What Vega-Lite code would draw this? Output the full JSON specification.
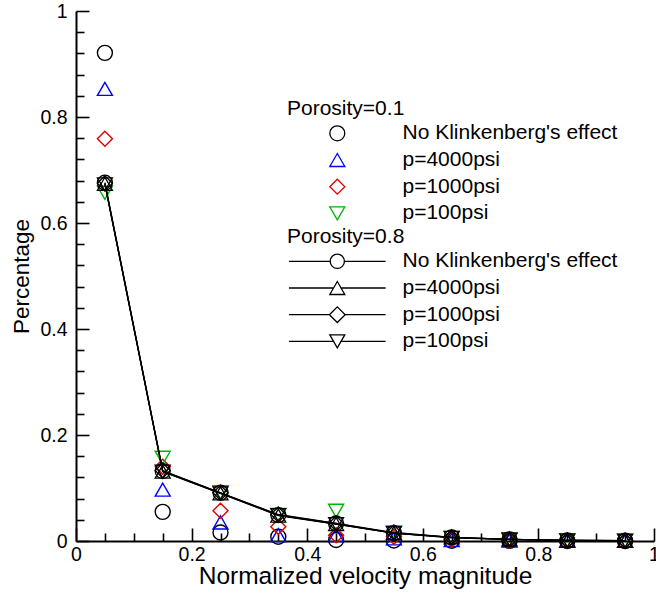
{
  "$schema": "https://vega.github.io/schema/vega-lite/v6.json",
  "width": 578,
  "height": 530,
  "autosize": "none",
  "padding": {"left": 76, "top": 11, "right": 2, "bottom": 53},
  "background": "white",
  "config": {
    "font": "Liberation Sans",
    "view": {"stroke": null},
    "axis": {"grid": true, "ticks": false, "gridColor": "black", "gridOpacity": 1, "gridWidth": 1.6, "domainColor": "black", "domainWidth": 2, "labelColor": "black", "titleColor": "black", "titleFontWeight": "normal", "labelOverlap": false, "labelFlush": false}
  },
  "datasets": {
    "p01": [
      {"x": 0.05, "y": 0.921, "case": "No Klinkenberg's effect"},
      {"x": 0.15, "y": 0.055, "case": "No Klinkenberg's effect"},
      {"x": 0.25, "y": 0.016, "case": "No Klinkenberg's effect"},
      {"x": 0.35, "y": 0.008, "case": "No Klinkenberg's effect"},
      {"x": 0.45, "y": 0.002, "case": "No Klinkenberg's effect"},
      {"x": 0.55, "y": 0.001, "case": "No Klinkenberg's effect"},
      {"x": 0.65, "y": 0.0005, "case": "No Klinkenberg's effect"},
      {"x": 0.75, "y": 0.0002, "case": "No Klinkenberg's effect"},
      {"x": 0.85, "y": 0.0001, "case": "No Klinkenberg's effect"},
      {"x": 0.95, "y": 0.0, "case": "No Klinkenberg's effect"},
      {"x": 0.05, "y": 0.853, "case": "p=4000psi"},
      {"x": 0.15, "y": 0.097, "case": "p=4000psi"},
      {"x": 0.25, "y": 0.035, "case": "p=4000psi"},
      {"x": 0.35, "y": 0.011, "case": "p=4000psi"},
      {"x": 0.45, "y": 0.011, "case": "p=4000psi"},
      {"x": 0.55, "y": 0.005, "case": "p=4000psi"},
      {"x": 0.65, "y": 0.002, "case": "p=4000psi"},
      {"x": 0.75, "y": 0.001, "case": "p=4000psi"},
      {"x": 0.85, "y": 0.0005, "case": "p=4000psi"},
      {"x": 0.95, "y": 0.0002, "case": "p=4000psi"},
      {"x": 0.05, "y": 0.759, "case": "p=1000psi"},
      {"x": 0.15, "y": 0.14, "case": "p=1000psi"},
      {"x": 0.25, "y": 0.057, "case": "p=1000psi"},
      {"x": 0.35, "y": 0.027, "case": "p=1000psi"},
      {"x": 0.45, "y": 0.011, "case": "p=1000psi"},
      {"x": 0.55, "y": 0.008, "case": "p=1000psi"},
      {"x": 0.65, "y": 0.003, "case": "p=1000psi"},
      {"x": 0.75, "y": 0.001, "case": "p=1000psi"},
      {"x": 0.85, "y": 0.0005, "case": "p=1000psi"},
      {"x": 0.95, "y": 0.0002, "case": "p=1000psi"},
      {"x": 0.05, "y": 0.657, "case": "p=100psi"},
      {"x": 0.15, "y": 0.157, "case": "p=100psi"},
      {"x": 0.25, "y": 0.092, "case": "p=100psi"},
      {"x": 0.35, "y": 0.049, "case": "p=100psi"},
      {"x": 0.45, "y": 0.057, "case": "p=100psi"},
      {"x": 0.55, "y": 0.016, "case": "p=100psi"},
      {"x": 0.65, "y": 0.006, "case": "p=100psi"},
      {"x": 0.75, "y": 0.002, "case": "p=100psi"},
      {"x": 0.85, "y": 0.001, "case": "p=100psi"},
      {"x": 0.95, "y": 0.0005, "case": "p=100psi"}
    ],
    "p08": [
      {"x": 0.05, "y": 0.676, "case": "No Klinkenberg's effect"},
      {"x": 0.15, "y": 0.132, "case": "No Klinkenberg's effect"},
      {"x": 0.25, "y": 0.091, "case": "No Klinkenberg's effect"},
      {"x": 0.35, "y": 0.049, "case": "No Klinkenberg's effect"},
      {"x": 0.45, "y": 0.033, "case": "No Klinkenberg's effect"},
      {"x": 0.55, "y": 0.015, "case": "No Klinkenberg's effect"},
      {"x": 0.65, "y": 0.007, "case": "No Klinkenberg's effect"},
      {"x": 0.75, "y": 0.003, "case": "No Klinkenberg's effect"},
      {"x": 0.85, "y": 0.001, "case": "No Klinkenberg's effect"},
      {"x": 0.95, "y": 0.0005, "case": "No Klinkenberg's effect"},
      {"x": 0.05, "y": 0.674, "case": "p=4000psi"},
      {"x": 0.15, "y": 0.131, "case": "p=4000psi"},
      {"x": 0.25, "y": 0.09, "case": "p=4000psi"},
      {"x": 0.35, "y": 0.048, "case": "p=4000psi"},
      {"x": 0.45, "y": 0.032, "case": "p=4000psi"},
      {"x": 0.55, "y": 0.015, "case": "p=4000psi"},
      {"x": 0.65, "y": 0.007, "case": "p=4000psi"},
      {"x": 0.75, "y": 0.003, "case": "p=4000psi"},
      {"x": 0.85, "y": 0.001, "case": "p=4000psi"},
      {"x": 0.95, "y": 0.0005, "case": "p=4000psi"},
      {"x": 0.05, "y": 0.675, "case": "p=1000psi"},
      {"x": 0.15, "y": 0.133, "case": "p=1000psi"},
      {"x": 0.25, "y": 0.091, "case": "p=1000psi"},
      {"x": 0.35, "y": 0.05, "case": "p=1000psi"},
      {"x": 0.45, "y": 0.033, "case": "p=1000psi"},
      {"x": 0.55, "y": 0.016, "case": "p=1000psi"},
      {"x": 0.65, "y": 0.007, "case": "p=1000psi"},
      {"x": 0.75, "y": 0.003, "case": "p=1000psi"},
      {"x": 0.85, "y": 0.001, "case": "p=1000psi"},
      {"x": 0.95, "y": 0.0005, "case": "p=1000psi"},
      {"x": 0.05, "y": 0.673, "case": "p=100psi"},
      {"x": 0.15, "y": 0.131, "case": "p=100psi"},
      {"x": 0.25, "y": 0.09, "case": "p=100psi"},
      {"x": 0.35, "y": 0.049, "case": "p=100psi"},
      {"x": 0.45, "y": 0.032, "case": "p=100psi"},
      {"x": 0.55, "y": 0.015, "case": "p=100psi"},
      {"x": 0.65, "y": 0.006, "case": "p=100psi"},
      {"x": 0.75, "y": 0.003, "case": "p=100psi"},
      {"x": 0.85, "y": 0.001, "case": "p=100psi"},
      {"x": 0.95, "y": 0.0005, "case": "p=100psi"}
    ]
  },
  "encoding": {
    "x": {
      "field": "x", "type": "quantitative",
      "scale": {"domain": [0, 1], "nice": false, "zero": false},
      "axis": {
        "title": "Normalized velocity magnitude",
        "values": [0, 0.05, 0.1, 0.15, 0.2, 0.25, 0.3, 0.35, 0.4, 0.45, 0.5, 0.55, 0.6, 0.65, 0.7, 0.75, 0.8, 0.85, 0.9, 0.95, 1],
        "labelExpr": "abs(datum.value*5-round(datum.value*5))<0.001 ? format(datum.value,'.1~f') : ''",
        "labelOverlap": false,
        "labelFlush": false,
        "grid": true,
        "ticks": false,
        "gridDash": {"condition": {"test": "abs(datum.value*5-round(datum.value*5))<0.001", "value": [0, 517, 13, 2000]}, "value": [0, 522, 8, 2000]},
        "labelFontSize": 19.5,
        "labelPadding": 4.6,
        "titleFontSize": 24.5,
        "titlePadding": 0
      }
    },
    "y": {
      "field": "y", "type": "quantitative",
      "scale": {"domain": [0, 1], "nice": false, "zero": false},
      "axis": {
        "title": "Percentage",
        "values": [0, 0.04, 0.08, 0.12, 0.16, 0.2, 0.24, 0.28, 0.32, 0.36, 0.4, 0.44, 0.48, 0.52, 0.56, 0.6, 0.64, 0.68, 0.72, 0.76, 0.8, 0.84, 0.88, 0.92, 0.96, 1],
        "labelExpr": "abs(datum.value*5-round(datum.value*5))<0.001 ? format(datum.value,'.1~f') : ''",
        "labelOverlap": false,
        "labelFlush": false,
        "grid": true,
        "ticks": false,
        "gridDash": {"condition": {"test": "abs(datum.value*5-round(datum.value*5))<0.001", "value": [13, 2000]}, "value": [8, 2000]},
        "labelFontSize": 19.5,
        "labelPadding": 9,
        "titleFontSize": 22.5,
        "titlePadding": 6
      }
    }
  },
  "layer": [
    {
      "data": {"name": "p01"},
      "mark": {"type": "point", "filled": false, "size": 225, "strokeWidth": 1.4, "opacity": 1},
      "encoding": {
        "shape": {
          "field": "case", "type": "nominal",
          "scale": {"domain": ["No Klinkenberg's effect", "p=4000psi", "p=1000psi", "p=100psi"], "range": ["circle", "triangle-up", "diamond", "triangle-down"]},
          "legend": {
            "title": "Porosity=0.1", "orient": "none", "legendX": 211, "legendY": 87.4,
            "padding": 0, "titleFontSize": 21, "titleFontWeight": "normal", "titleColor": "black",
            "labelFontSize": 21, "labelColor": "black", "labelLimit": 400,
            "symbolSize": 225, "symbolStrokeWidth": 1.3, "symbolOffset": 39.8, "labelOffset": 54.7,
            "rowPadding": 4.7, "titlePadding": 3.4
          }
        },
        "color": {
          "field": "case", "type": "nominal",
          "scale": {"domain": ["No Klinkenberg's effect", "p=4000psi", "p=1000psi", "p=100psi"], "range": ["black", "#0000ff", "#e00000", "#00b400"]},
          "legend": {
            "title": "Porosity=0.1", "orient": "none", "legendX": 211, "legendY": 87.4,
            "padding": 0, "titleFontSize": 21, "titleFontWeight": "normal", "titleColor": "black",
            "labelFontSize": 21, "labelColor": "black", "labelLimit": 400,
            "symbolSize": 225, "symbolStrokeWidth": 1.3, "symbolOffset": 39.8, "labelOffset": 54.7,
            "rowPadding": 4.7, "titlePadding": 3.4
          }
        }
      }
    },
    {
      "data": {"name": "p08"},
      "mark": {"type": "line", "color": "black", "strokeWidth": 1.3},
      "encoding": {
        "detail": {"field": "case", "type": "nominal"}
      }
    },
    {
      "data": {"name": "p08"},
      "mark": {"type": "point", "filled": false, "size": 225, "strokeWidth": 1.3, "color": "black", "opacity": 1},
      "encoding": {
        "shape": {
          "field": "case", "type": "nominal",
          "scale": {"domain": ["No Klinkenberg's effect", "p=4000psi", "p=1000psi", "p=100psi"], "range": ["circle", "triangle-up", "diamond", "triangle-down"]},
          "legend": null
        }
      }
    },
    {
      "data": {"name": "p08"},
      "mark": {"type": "point", "filled": false, "size": 225, "strokeWidth": 1.3, "color": "black", "opacity": 0},
      "encoding": {
        "shape": {
          "field": "case", "type": "nominal",
          "scale": {
            "domain": ["No Klinkenberg's effect", "p=4000psi", "p=1000psi", "p=100psi"],
            "range": [
              "M-6.45,0H-0.95M0.95,0H6.45M0.95,0A0.95,0.95,0,1,1,-0.95,0A0.95,0.95,0,1,1,0.95,0Z",
              "M-6.45,0H-0.5M0.5,0H6.45M0,-0.866L-1,0.866L1,0.866Z",
              "M-6.45,0H-1.05M1.05,0H6.45M-1.05,0L0,-1.05L1.05,0L0,1.05Z",
              "M-6.45,0H-0.5M0.5,0H6.45M0,0.866L-1,-0.866L1,-0.866Z"
            ]
          },
          "legend": {
            "title": "Porosity=0.8", "orient": "none", "legendX": 211, "legendY": 215.4,
            "padding": 0, "titleFontSize": 21, "titleFontWeight": "normal", "titleColor": "black",
            "labelFontSize": 21, "labelColor": "black", "labelLimit": 400,
            "symbolSize": 225, "symbolStrokeWidth": 1.3, "symbolOffset": 39.8, "labelOffset": 54.7,
            "rowPadding": 4.7, "titlePadding": 3.4,
            "symbolOpacity": 1, "symbolStrokeColor": "black", "symbolFillColor": "transparent"
          }
        }
      }
    }
  ],
  "resolve": {"scale": {"shape": "independent", "color": "independent"}}
}
